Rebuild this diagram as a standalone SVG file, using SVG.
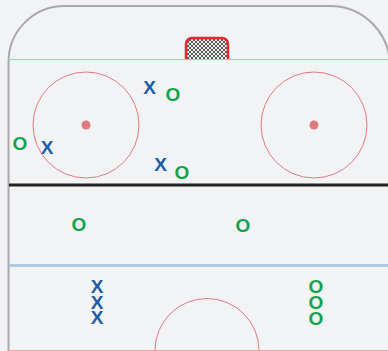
<svg xmlns="http://www.w3.org/2000/svg" width="388" height="351" viewBox="0 0 388 351">
<defs>
<pattern id="mesh" width="4" height="4" patternUnits="userSpaceOnUse">
<rect width="4" height="4" fill="#3a3a3a"/>
<circle cx="2" cy="2" r="1.2" fill="#f4f4f4"/>
<circle cx="0" cy="0" r="1.2" fill="#f4f4f4"/>
<circle cx="4" cy="0" r="1.2" fill="#f4f4f4"/>
<circle cx="0" cy="4" r="1.2" fill="#f4f4f4"/>
<circle cx="4" cy="4" r="1.2" fill="#f4f4f4"/>
</pattern>
<style>
.red{fill:none;stroke:#e07a7f;stroke-width:1}
.dot{fill:#e07a7f}
.x{font-family:"Liberation Sans",Arial,sans-serif;font-size:19px;font-weight:bold;fill:#1c5ea8;text-anchor:middle}
.o{font-family:"Liberation Sans",Arial,sans-serif;font-size:19px;font-weight:bold;fill:#14a24c;text-anchor:middle}
</style>
</defs>
<rect width="388" height="351" fill="#f2f3f5"/>
<g id="rink">
<path d="M8.5,351 V62 A56,56 0 0 1 64.5,6 H330 A60,60 0 0 1 390,66 V351" fill="#f2f3f5" stroke="#a9a9ab" stroke-width="2"/>
<line x1="8" y1="59.5" x2="390" y2="59.5" stroke="#eba8aa" stroke-width="1.2"/>
<line x1="9" y1="185" x2="390" y2="185" stroke="#222" stroke-width="3"/>
<line x1="9" y1="265.5" x2="390" y2="265.5" stroke="#b3cbe0" stroke-width="3"/>
<line x1="9" y1="350.5" x2="390" y2="350.5" stroke="#eba8aa" stroke-width="1.2"/>
</g>
<g id="net">
<path d="M186,59 V44 A6,6 0 0 1 192,38 H222 A6,6 0 0 1 228,44 V59" fill="url(#mesh)" stroke="#e8262c" stroke-width="2.5"/>
</g>
<g id="circle-left">
<circle cx="86" cy="125" r="53" class="red"/>
<circle cx="86" cy="125" r="4.5" class="dot"/>
</g>
<g id="circle-right">
<circle cx="314" cy="125" r="53" class="red"/>
<circle cx="314" cy="125" r="4.5" class="dot"/>
</g>
<g id="center-circle">
<path d="M155,350.5 A52,52 0 0 1 259,350.5" class="red"/>
</g>
<g id="players">
<text class="x" x="149.5" y="94">X</text>
<text class="o" x="173" y="101">O</text>
<text class="o" x="20" y="150">O</text>
<text class="x" x="47" y="154">X</text>
<text class="x" x="160.5" y="171">X</text>
<text class="o" x="182" y="179">O</text>
<text class="o" x="79" y="231">O</text>
<text class="o" x="243" y="232">O</text>
<text class="x" x="97" y="293">X</text>
<text class="x" x="97" y="309">X</text>
<text class="x" x="97" y="324">X</text>
<text class="o" x="316" y="293">O</text>
<text class="o" x="316" y="309">O</text>
<text class="o" x="316" y="325">O</text>
</g>
</svg>
